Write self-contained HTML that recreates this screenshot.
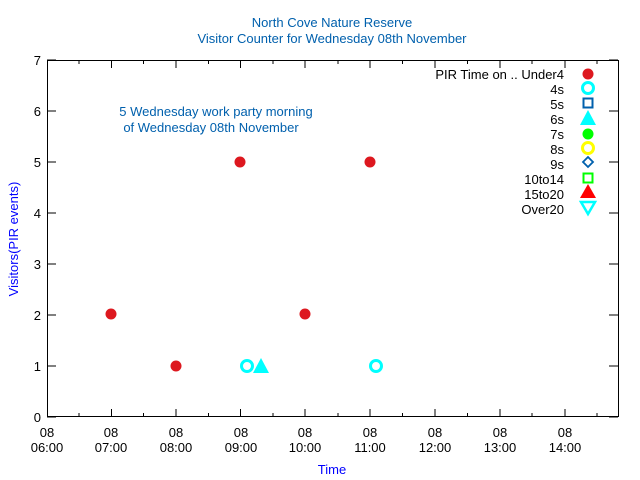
<!DOCTYPE html>
<html><head><style>body{margin:0;background:#fff}svg{display:block}text{font-family:"Liberation Sans",sans-serif;font-size:13px}</style></head><body>
<svg width="640" height="480" xmlns="http://www.w3.org/2000/svg">
<rect width="640" height="480" fill="#fff"/>
<text x="332" y="27" text-anchor="middle" fill="#0060ad">North Cove Nature Reserve</text>
<text x="332" y="43" text-anchor="middle" fill="#0060ad">Visitor Counter for Wednesday 08th November</text>
<text x="216" y="116" text-anchor="middle" fill="#0060ad">5 Wednesday work party morning</text>
<text x="211" y="132" text-anchor="middle" fill="#0060ad">of Wednesday 08th November</text>
<g stroke="#000" stroke-width="1" fill="none">
<rect x="47.5" y="60.5" width="571" height="356"/>
<path d="M47 417h9M47 366h9M47 315h9M47 264h9M47 213h9M47 162h9M47 111h9M47 60h9
M618 417h-9M618 366h-9M618 315h-9M618 264h-9M618 213h-9M618 162h-9M618 111h-9M618 60h-9
M111.5 417v-8M176 417v-8M240.5 417v-8M305 417v-8M370 417v-8M435 417v-8M500 417v-8M565 417v-8
M79 417v-4M143.5 417v-4M208.5 417v-4M273 417v-4M338 417v-4M402.5 417v-4M467.5 417v-4M532 417v-4M597 417v-4
M111.5 60v8M176 60v8M240.5 60v8M305 60v8M370 60v8M435 60v8M500 60v8M565 60v8
M79 60v4M143.5 60v4M208.5 60v4M273 60v4M338 60v4M402.5 60v4M467.5 60v4M532 60v4M597 60v4"/>
</g>
<g text-anchor="end" fill="#000">
<text x="41" y="422">0</text><text x="41" y="371">1</text><text x="41" y="320">2</text><text x="41" y="269">3</text><text x="41" y="218">4</text><text x="41" y="167">5</text><text x="41" y="116">6</text><text x="41" y="65">7</text>
</g>
<g text-anchor="middle" fill="#000">
<text x="47" y="437">08</text><text x="47" y="452">06:00</text>
<text x="111" y="437">08</text><text x="111" y="452">07:00</text>
<text x="176" y="437">08</text><text x="176" y="452">08:00</text>
<text x="241" y="437">08</text><text x="241" y="452">09:00</text>
<text x="305" y="437">08</text><text x="305" y="452">10:00</text>
<text x="370" y="437">08</text><text x="370" y="452">11:00</text>
<text x="435" y="437">08</text><text x="435" y="452">12:00</text>
<text x="500" y="437">08</text><text x="500" y="452">13:00</text>
<text x="565" y="437">08</text><text x="565" y="452">14:00</text>
</g>
<text x="332" y="474" text-anchor="middle" fill="#0000ff">Time</text>
<text transform="translate(18,239) rotate(-90)" text-anchor="middle" fill="#0000ff">Visitors(PIR events)</text>
<g text-anchor="end" fill="#000">
<text x="564" y="79">PIR Time on .. Under4</text><text x="564" y="94">4s</text><text x="564" y="109">5s</text><text x="564" y="124">6s</text><text x="564" y="139">7s</text><text x="564" y="154">8s</text><text x="564" y="169">9s</text><text x="564" y="184">10to14</text><text x="564" y="199">15to20</text><text x="564" y="214">Over20</text>
</g>
<g fill="#dd181f">
<circle cx="588" cy="74" r="5.5"/>
<circle cx="111" cy="314" r="5.5"/><circle cx="176" cy="366" r="5.5"/><circle cx="240" cy="162" r="5.5"/><circle cx="305" cy="314" r="5.5"/><circle cx="370" cy="162" r="5.5"/>
</g>
<g fill="none" stroke="#00ffff" stroke-width="3">
<circle cx="588" cy="88" r="5.5"/><circle cx="247" cy="366" r="5.5"/><circle cx="376" cy="366" r="5.5"/>
</g>
<rect x="583.5" y="98.5" width="9" height="9" fill="none" stroke="#0060ad" stroke-width="2"/>
<polygon points="588,110 596,125 580,125" fill="#00ffff"/>
<polygon points="261,358 269,373 253,373" fill="#00ffff"/>
<circle cx="588" cy="134" r="5.5" fill="#00ff00"/>
<circle cx="588" cy="148" r="5.5" fill="none" stroke="#ffff00" stroke-width="3"/>
<polygon points="588,157 593,162 588,167 583,162" fill="none" stroke="#0060ad" stroke-width="1.8"/>
<rect x="583.5" y="173.5" width="9" height="9" fill="none" stroke="#00ff00" stroke-width="2"/>
<polygon points="588,184 596,198 580,198" fill="#ff0000"/>
<polygon points="581,202 595,202 588,214" fill="none" stroke="#00ffff" stroke-width="2.5"/>
</svg>
</body></html>
